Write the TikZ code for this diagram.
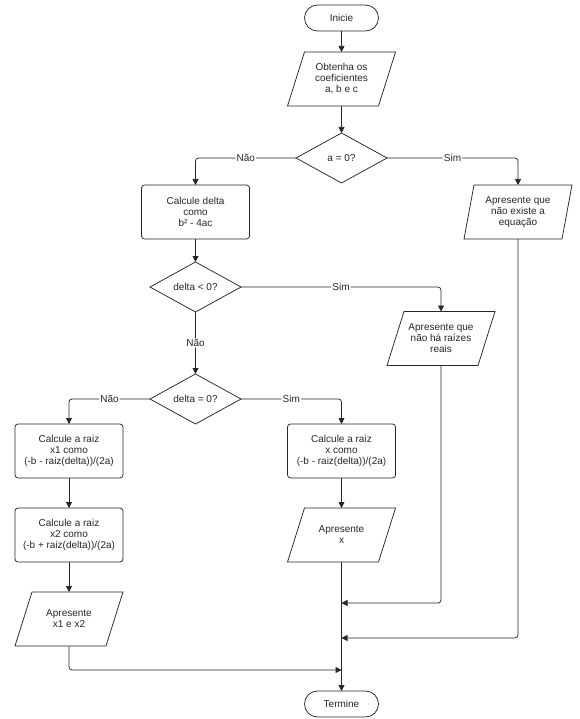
\documentclass[tikz,border=0pt]{standalone}
\usepackage{fontspec}
\setmainfont{Liberation Sans}
\usetikzlibrary{arrows.meta}
\begin{document}
\begin{tikzpicture}[x=1pt,y=-1pt,
  every node/.style={font=\fontsize{10}{11}\selectfont, text=black!85, align=center},
  box/.style={draw, rounded corners=3pt, minimum width=108pt, minimum height=54pt, inner sep=0pt, outer sep=0pt},
  term/.style={draw, rounded corners=13pt, minimum width=74pt, minimum height=26pt, inner sep=0pt, outer sep=0pt},
  iobox/.style={minimum width=108pt, minimum height=54pt, inner sep=0pt, outer sep=0pt},
  decision/.style={minimum width=91pt, minimum height=50pt, inner sep=0pt, outer sep=0pt},
  arr/.style={-{Triangle[width=6pt,length=6pt]}, rounded corners=3pt},
  lbl/.style={fill=white, inner sep=1pt},
  line width=0.75pt, draw=black!85]
\useasboundingbox (0,0) rectangle (579,719);

\node[term] (ini) at (341.5,18) {Inicie};
\node[iobox] (obt) at (341.5,79) {Obtenha os\\coeficientes\\a, b e c};
\node[decision] (a0) at (341.5,158) {a = 0?};
\node[box] (cd) at (195.5,212) {Calcule delta\\como\\b² - 4ac};
\node[iobox] (eq) at (518,212) {Apresente que\\não existe a\\equação};
\node[decision] (d1) at (195.5,287) {delta < 0?};
\node[iobox] (reais) at (441,338.5) {Apresente que\\não há raízes\\reais};
\node[decision] (d2) at (195.5,399) {delta = 0?};
\node[box] (x1) at (69,451) {Calcule a raiz\\x1 como\\(-b - raiz(delta))/(2a)};
\node[box] (x2) at (69,535) {Calcule a raiz\\x2 como\\(-b + raiz(delta))/(2a)};
\node[iobox] (ap12) at (69,619) {Apresente\\x1 e x2};
\node[box] (xr) at (341.5,451) {Calcule a raiz\\x como\\(-b - raiz(delta))/(2a)};
\node[iobox] (apx) at (341.5,535) {Apresente\\x};
\node[term] (fim) at (341.5,704) {Termine};

\coordinate (j1) at (341.5,603);
\coordinate (j2) at (341.5,638);
\coordinate (j3) at (341.5,670);

% shapes
\foreach \n in {a0,d1,d2}
  \draw (\n.north) -- (\n.east) -- (\n.south) -- (\n.west) -- cycle;
\foreach \n in {obt,reais,apx,ap12}
  \draw ([xshift=17pt]\n.north west) -- (\n.north east) -- ([xshift=-17pt]\n.south east) -- (\n.south west) -- cycle;
\draw ([xshift=10pt]eq.north west) -- (eq.north east) -- ([xshift=-10pt]eq.south east) -- (eq.south west) -- cycle;

% connectors
\draw[arr] (ini) -- (obt);
\draw[arr] (obt) -- (a0);
\draw[arr] (a0.west) -| node[lbl,pos=0.25]{Não} (cd.north);
\draw[arr] (a0.east) -| node[lbl,pos=0.25]{Sim} (eq.north);
\draw[arr] (cd) -- (d1);
\draw[arr] (d1.east) -| node[lbl,pos=0.25]{Sim} (reais.north);
\draw[arr] (d1) -- node[lbl]{Não} (d2);
\draw[arr] (d2.west) -| node[lbl,pos=0.25]{Não} (x1.north);
\draw[arr] (d2.east) -| node[lbl,pos=0.25]{Sim} (xr.north);
\draw[arr] (x1) -- (x2);
\draw[arr] (x2) -- (ap12);
\draw[arr] (xr) -- (apx);
\draw[arr] (apx) -- (fim);
\draw[arr] (reais.south) |- (j1);
\draw[arr] (eq.south) |- (j2);
\draw[arr] (ap12.south) |- (j3);
\end{tikzpicture}
\end{document}
